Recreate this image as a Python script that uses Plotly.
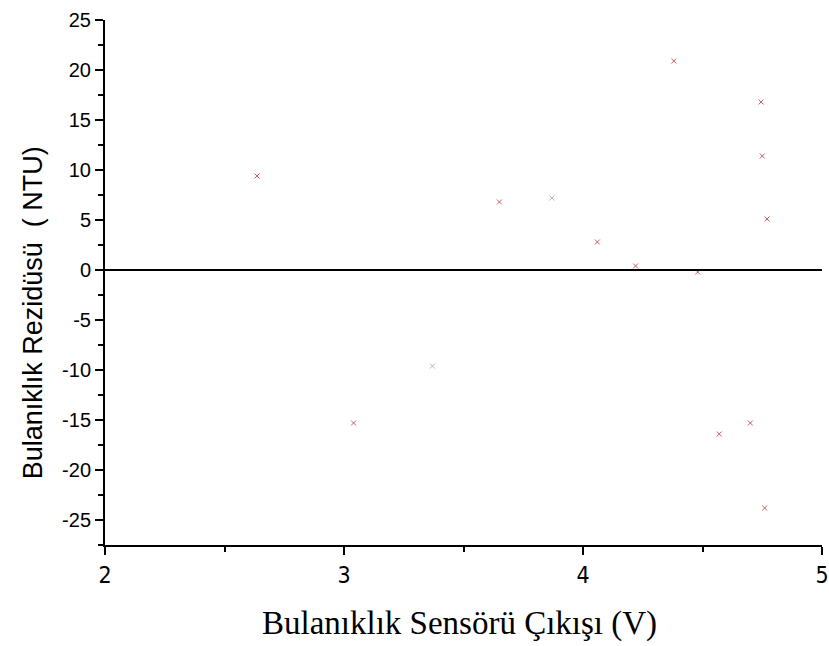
import plotly.graph_objects as go

x_red = [2.636, 3.04, 3.65, 4.06, 4.22, 4.38, 4.48, 4.57, 4.70, 4.745, 4.75, 4.77, 4.76]
y_red = [9.4, -15.3, 6.8, 2.8, 0.4, 20.9, -0.2, -16.4, -15.3, 16.8, 11.4, 5.1, -23.8]
x_gray = [3.37, 3.87]
y_gray = [-9.6, 7.2]

x_ticks = [2, 3, 4, 5]
y_ticks = [25, 20, 15, 10, 5, 0, -5, -10, -15, -20, -25]

x_title = "Bulanıklık Sensörü Çıkışı (V)"
y_title = "Bulanıklık Rezidüsü  ( NTU)"

fig = go.Figure()
fig.add_trace(go.Scatter(x=x_red, y=y_red, mode="markers",
                         marker=dict(symbol="x-thin", size=5, line=dict(width=1, color="rgba(190,40,40,0.75)")),
                         showlegend=False))
fig.add_trace(go.Scatter(x=x_gray, y=y_gray, mode="markers",
                         marker=dict(symbol="x-thin", size=5, line=dict(width=1, color="rgba(150,150,170,0.7)")),
                         showlegend=False))
fig.add_shape(type="line", xref="x", yref="y", x0=2, x1=5, y0=0, y1=0,
              line=dict(color="black", width=2))

fig.update_layout(
    width=829, height=646,
    margin=dict(l=105, r=7, t=20, b=101),
    paper_bgcolor="white", plot_bgcolor="white",
    xaxis=dict(range=[2, 5], tickvals=x_ticks, ticktext=[str(v) for v in x_ticks],
               showgrid=False, zeroline=False, automargin=False,
               showline=True, linecolor="black", linewidth=2,
               ticks="outside", ticklen=8, tickwidth=2, tickcolor="black",
               minor=dict(ticks="outside", dtick=0.5, ticklen=5, tickwidth=2, tickcolor="black"),
               tickfont=dict(family="Liberation Sans Narrow, DejaVu Sans Condensed, Arial Narrow, sans-serif",
                             size=23, color="black")),
    yaxis=dict(range=[-27.5, 25], tickvals=y_ticks, ticktext=[str(v) for v in y_ticks],
               showgrid=False, zeroline=False, automargin=False,
               showline=True, linecolor="black", linewidth=2,
               ticks="outside", ticklen=8, tickwidth=2, tickcolor="black",
               minor=dict(ticks="outside", dtick=2.5, ticklen=5, tickwidth=2, tickcolor="black"),
               tickfont=dict(family="Liberation Sans, Arial, sans-serif", size=20, color="black")),
    annotations=[
        dict(text=x_title, xref="paper", yref="paper", x=0.495, y=-0.11, yanchor="top",
             showarrow=False, font=dict(family="Liberation Serif, Times New Roman, serif", size=33, color="black")),
        dict(text=y_title, xref="paper", yref="paper", x=-0.100, y=0.442, xanchor="center", yanchor="middle",
             textangle=-90, showarrow=False,
             font=dict(family="Liberation Sans, Arial, sans-serif", size=27, color="black")),
    ],
)

fig.write_html("out.html")
